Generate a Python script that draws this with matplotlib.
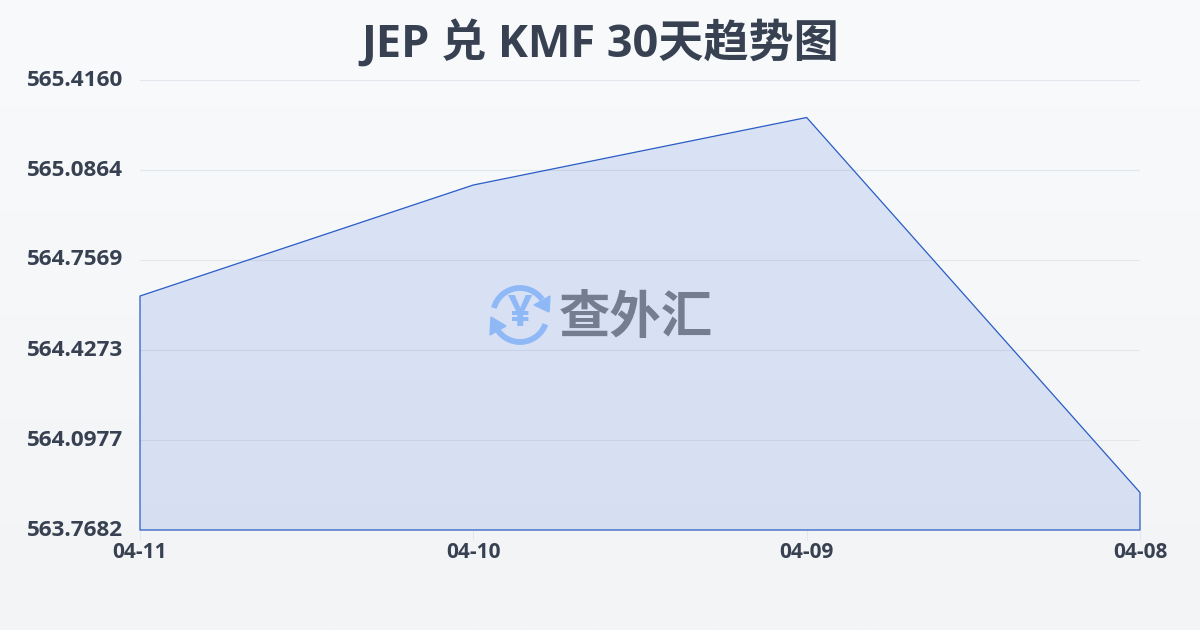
import numpy as np
import matplotlib
matplotlib.use("Agg")
import matplotlib.pyplot as plt
from matplotlib.patches import Arc, Polygon

plt.rcParams['font.family'] = ['Open Sans', 'Noto Sans CJK SC', 'DejaVu Sans']

# values
dates = ["04-11", "04-10", "04-09", "04-08"]
rates = [564.625, 565.0315, 565.2787, 563.9055]
y_ticks = [563.7682, 564.0977, 564.4273, 564.7569, 565.0864, 565.4160]
y_labels = ["563.7682", "564.0977", "564.4273", "564.7569", "565.0864", "565.4160"]

TEXT = "#374151"

fig = plt.figure(figsize=(12, 6.3), dpi=100)

# background gradient
bg = fig.add_axes([0, 0, 1, 1], zorder=0)
grad = np.linspace(0, 1, 256).reshape(-1, 1)
top = np.array([248, 250, 252]) / 255
bottom = np.array([243, 244, 246]) / 255
bg.imshow(top + (bottom - top) * grad[..., None], aspect="auto", extent=[0, 1200, 630, 0])
bg.axis("off")

# plot area in pixels: x 140-1140, y 80-530
ax = fig.add_axes([140 / 1200, 100 / 630, 1000 / 1200, 450 / 630], zorder=1)
ax.patch.set_alpha(0)
x = np.arange(len(dates))
ax.grid(axis="y", color="#e3e7ec", linewidth=0.8)
ax.set_axisbelow(True)
ax.fill_between(x, rates, y_ticks[0], facecolor="#2a5fd8", alpha=0.14, linewidth=0)
outline = ax.fill_between(x, rates, y_ticks[0], facecolor="none", edgecolor="#2a5cc4", linewidth=0.9)
outline.set_clip_on(False)

ax.set_xlim(0, 3)
ax.set_ylim(y_ticks[0], y_ticks[-1])
ax.set_xticks(x, dates, fontsize=15, fontweight="bold", color=TEXT)
ax.set_yticks(y_ticks, y_labels, fontsize=16.2, fontweight="bold", color=TEXT)
ax.tick_params(axis="x", length=7, width=0.8, color="#e3e7ec", pad=2)
ax.tick_params(axis="y", length=0, pad=12)
for label in ax.get_yticklabels():
    label.set_verticalalignment("center")
for s in ax.spines.values():
    s.set_visible(False)

fig.text(0.5, 1 - 45 / 630, "JEP 兑 KMF 30天趋势图", ha="center", va="center",
         fontsize=32.5, fontweight="bold", color=TEXT)

# watermark logo, in pixel coordinates
wm = fig.add_axes([0, 0, 1, 1], zorder=2)
wm.set_xlim(0, 1200)
wm.set_ylim(630, 0)
wm.axis("off")
BLUE = "#8fb8f6"
wm.add_patch(Arc((520, 315), 54, 54, theta1=195, theta2=325, color=BLUE, lw=4.2))
wm.add_patch(Arc((520, 315), 54, 54, theta1=20, theta2=150, color=BLUE, lw=4.2))
wm.add_patch(Polygon([[550, 296], [549, 312], [534, 305]], color=BLUE))
wm.add_patch(Polygon([[490, 335], [491, 317], [506, 326]], color=BLUE))
wm.text(520, 315, "¥", ha="center", va="center", fontsize=31, fontweight="bold", color=BLUE,
        family=["Open Sans"])
wm.text(636, 318, "查外汇", ha="center", va="center", fontsize=37, fontweight="bold", color="#757e90",
        family=["Noto Sans CJK SC"])

fig.savefig("out.png", dpi=100)
